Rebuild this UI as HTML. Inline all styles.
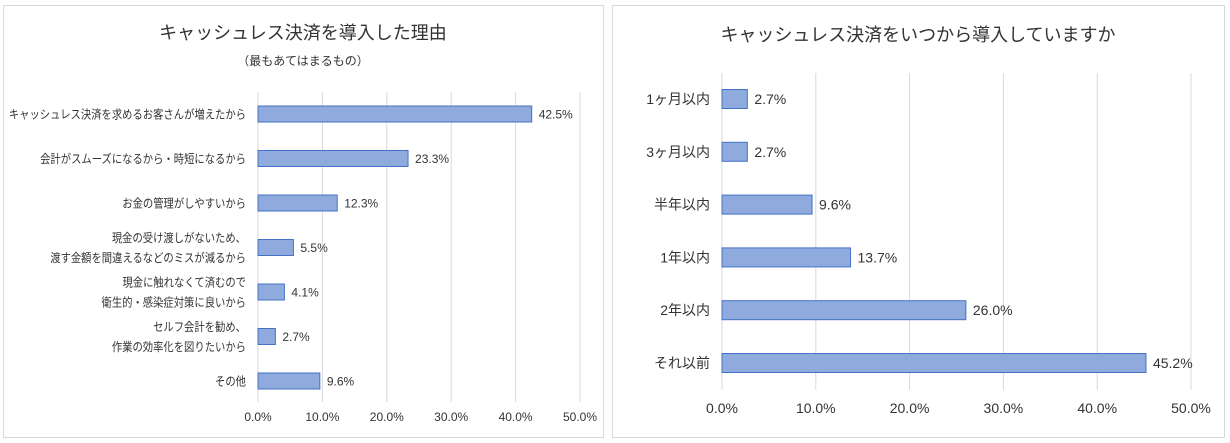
<!DOCTYPE html>
<html><head><meta charset="utf-8">
<style>
body{margin:0;background:#fff;width:1230px;height:443px;overflow:hidden;font-family:"Liberation Sans","Noto Sans CJK JP",sans-serif;}
svg{position:absolute;left:0;top:0}
text{font-family:"Liberation Sans","Noto Sans CJK JP",sans-serif;fill:#333}
</style></head><body>
<svg id="svg" width="1230" height="443">
<rect x="3.5" y="5.5" width="600" height="432" fill="#fff" stroke="#d9d9d9"/>
<rect x="612.5" y="5.5" width="612" height="432" fill="#fff" stroke="#d9d9d9"/>
<text x="303" y="39" font-size="18" text-anchor="middle">キャッシュレス決済を導入した理由</text>
<text x="303" y="65" font-size="12" text-anchor="middle">（最もあてはまるもの）</text>
<text x="918" y="41" font-size="18" text-anchor="middle">キャッシュレス決済をいつから導入していますか</text>
<g id="left"></g><g id="right"></g>
</svg>
<script>
const leftCats=[["キャッシュレス決済を求めるお客さんが増えたから"],["会計がスムーズになるから・時短になるから"],["お金の管理がしやすいから"],["現金の受け渡しがないため、","渡す金額を間違えるなどのミスが減るから"],["現金に触れなくて済むので","衛生的・感染症対策に良いから"],["セルフ会計を勧め、","作業の効率化を図りたいから"],["その他"]];
const leftVals=[42.5,23.3,12.3,5.5,4.1,2.7,9.6];
const rightCats=["1ヶ月以内","3ヶ月以内","半年以内","1年以内","2年以内","それ以前"];
const rightVals=[2.7,2.7,9.6,13.7,26.0,45.2];
const ticks=[0,10,20,30,40,50];
const NS="http://www.w3.org/2000/svg";
function mk(p,t,a,txt){const e=document.createElementNS(NS,t);for(const k in a)e.setAttribute(k,a[k]);if(txt!=null)e.textContent=txt;p.appendChild(e);return e;}
function chart(g,cats,vals,o){
  const xs=v=>o.x0+(o.x1-o.x0)*v/50;
  const ys=i=>o.c0+i*o.step;
  ticks.forEach(t=>{
    const l=mk(g,'line',{x1:xs(t),x2:xs(t),y1:o.gt,y2:o.gb,stroke:'#d9d9d9'});
    
    
    const tx=mk(g,'text',{x:xs(t),y:o.ty,'font-size':o.tf,'text-anchor':'middle',fill:'#595959'},t.toFixed(1)+'%');
    
    
  });
  vals.forEach((v,i)=>{
    const r=mk(g,'rect',{x:xs(0),y:ys(i)-o.bh/2,width:xs(v)-xs(0),height:o.bh,fill:'#8faadc',stroke:'#4472c4','stroke-width':1});
    
    
    const vl=mk(g,'text',{x:xs(v)+7,y:ys(i)+o.lf*0.36,'font-size':o.lf},v.toFixed(1)+'%');
    
    
    const lines=Array.isArray(cats[i])?cats[i]:[cats[i]];
    lines.forEach((s,j)=>{
      const off=(j-(lines.length-1)/2)*o.lh;
      const cl=mk(g,'text',{x:o.x0-12,y:ys(i)+off+o.cf*0.36,'font-size':o.cf,'text-anchor':'end'},s);
      
      
      if(o.sq<1){const w=cl.getComputedTextLength();cl.setAttribute('textLength',w*o.sq);cl.setAttribute('lengthAdjust','spacingAndGlyphs');}
    });
  });
}
chart(document.getElementById('left'),leftCats,leftVals,{x0:258,x1:580,c0:114,step:44.5,bh:16,gt:92,gb:402,ty:421,tf:12,lf:12,cf:12,lh:20,sq:0.86});
chart(document.getElementById('right'),rightCats,rightVals,{x0:722,x1:1191,c0:99,step:52.8,bh:19,gt:73,gb:390,ty:413,tf:14,lf:14,cf:14,lh:20,sq:1});
</script>
</body></html>
